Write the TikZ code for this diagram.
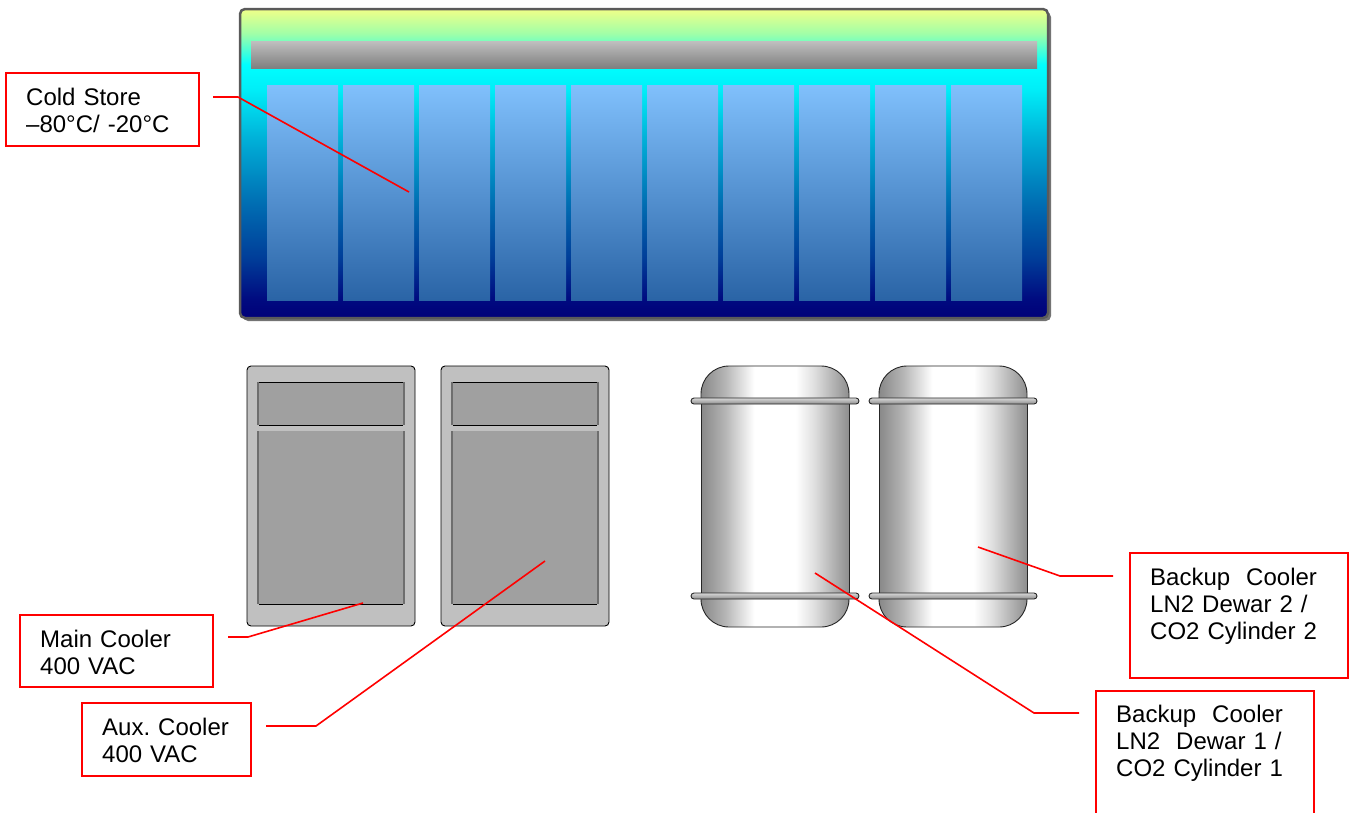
\documentclass[tikz,border=0pt]{standalone}
\usepackage{fontspec}
\setmainfont{Liberation Sans}
\frenchspacing

% colours
\definecolor{csYellow}{HTML}{F0FF88}
\definecolor{csGreen}{HTML}{A0FFA8}
\definecolor{csCyan}{HTML}{00FFFF}
\definecolor{csCyanB}{HTML}{00EEF8}
\definecolor{csTeal}{HTML}{00B0D8}
\definecolor{csBlue}{HTML}{0070B4}
\definecolor{csDeep}{HTML}{003C98}
\definecolor{csNavy}{HTML}{000A80}
\definecolor{csNavyB}{HTML}{000078}
\definecolor{frameGrey}{HTML}{5A5A5A}
\definecolor{panelTop}{HTML}{80C0FC}
\definecolor{panelBot}{HTML}{2A64A6}
\definecolor{coolerBody}{HTML}{C0C0C0}
\definecolor{coolerPanel}{HTML}{A0A0A0}
\definecolor{coolerEdge}{HTML}{6E6E6E}
\definecolor{steelA}{HTML}{888888}
\definecolor{steelB}{HTML}{8E8E8E}
\definecolor{steelMid}{HTML}{B4B4B4}

% cold store background: yellow top, cyan, blue, navy bottom
\pgfdeclareverticalshading{coldstore}{100bp}{%
  color(0bp)=(csNavyB); color(25bp)=(csNavyB); color(28bp)=(csNavy);
  color(34.5bp)=(csDeep); color(44bp)=(csBlue); color(54bp)=(csTeal);
  color(62bp)=(csCyanB); color(66bp)=(csCyan); color(71bp)=(csGreen);
  color(75bp)=(csYellow); color(100bp)=(csYellow)}
% polished steel for the dewars
\pgfdeclarehorizontalshading{steel}{100bp}{%
  color(0bp)=(steelA); color(25bp)=(steelA); color(33bp)=(steelMid);
  color(43bp)=(white); color(57bp)=(white); color(63bp)=(white!88!black);
  color(75bp)=(steelB); color(100bp)=(steelB)}

\tikzset{
  lbl/.style={draw=red, line width=2pt, inner sep=0pt},
  lbltext/.style={anchor=base west, inner sep=0pt, text width=260pt, align=left,
    font=\fontsize{24}{27.2}\selectfont},
  leader/.style={draw=red, line width=1.6pt},
  panel/.style={top color=panelTop, bottom color=panelBot},
  steelpart/.style={shading=steel, draw=black!85, line width=0.9pt},
  flange/.style={top color=white!85!black, bottom color=white!55!black, draw=black!85,
    line width=0.9pt, rounded corners=3pt},
}

\begin{document}
\begin{tikzpicture}[x=1pt, y=-1pt]
\useasboundingbox (0,0) rectangle (1351,812);

% ---------- cold store ----------
\fill[black!55, rounded corners=5pt] (243,12) rectangle (1051,321);
\path[shading=coldstore, draw=frameGrey, line width=2.5pt, rounded corners=5pt]
  (240,9) rectangle (1048,318);
\fill[top color=white!75!black, bottom color=white!50!black] (251,41) rectangle (1037,68);
\foreach \i in {0,...,9}
  \path[panel] ({267+76*\i},85) rectangle ({338+76*\i},300);

% ---------- coolers ----------
\foreach \x in {247,441} {
  \path[fill=coolerBody, draw=black, line width=0.9pt, rounded corners=4pt]
    (\x,366) rectangle ({\x+168},626);
  % upper panel
  \fill[coolerEdge] ({\x+10},382) rectangle ({\x+158},425);
  \fill[coolerPanel] ({\x+12},382) rectangle ({\x+156},425);
  \draw[black, line width=0.9pt] ({\x+12},382) -- ({\x+156},382)
    ({\x+12},425) -- ({\x+156},425);
  % lower panel
  \fill[coolerEdge] ({\x+10},431) rectangle ({\x+158},604);
  \fill[coolerPanel] ({\x+12},431) rectangle ({\x+156},604);
  \draw[black, line width=0.9pt] ({\x+12},604) -- ({\x+156},604);
}

% ---------- dewars ----------
\foreach \x in {701,879} {
  % top dome
  \path[steelpart] (\x,403) -- (\x,394)
    .. controls (\x,378.5) and ({\x+12.5},366) .. ({\x+28},366)
    -- ({\x+120},366)
    .. controls ({\x+135.5},366) and ({\x+148},378.5) .. ({\x+148},394)
    -- ({\x+148},403) -- cycle;
  % bottom dome
  \path[steelpart] (\x,597) -- (\x,599)
    .. controls (\x,614.5) and ({\x+12.5},627) .. ({\x+28},627)
    -- ({\x+120},627)
    .. controls ({\x+135.5},627) and ({\x+148},614.5) .. ({\x+148},599)
    -- ({\x+148},597) -- cycle;
  % body
  \path[steelpart] (\x,403) rectangle ({\x+148},594);
  % flanges
  \path[flange] ({\x-10},398) rectangle ({\x+158},404);
  \path[flange] ({\x-10},593) rectangle ({\x+158},599);
}

% ---------- labels ----------
\node[lbl, anchor=north west, minimum width=193pt, minimum height=73pt] (csbox) at (5,72) {};
\node[lbltext] (cstext) at (26,105) {Cold Store\\–80°C/ -20°C};

\node[lbl, anchor=north west, minimum width=193pt, minimum height=72pt] (mcbox) at (19,614) {};
\node[lbltext] (mctext) at (40,647) {Main Cooler\\400 VAC};

\node[lbl, anchor=north west, minimum width=169pt, minimum height=73pt] (acbox) at (81,702) {};
\node[lbltext] (actext) at (102,735) {Aux. Cooler\\400 VAC};

\node[lbl, anchor=north west, minimum width=218pt, minimum height=125pt] (bcbox2) at (1129,552) {};
\node[lbltext] (bctext2) at (1150,585) {Backup\ \ Cooler\\LN2 Dewar 2 /\\CO2 Cylinder 2};

\node[lbl, anchor=north west, minimum width=218pt, minimum height=135pt] (bcbox1) at (1095,690) {};
\node[lbltext] (bctext1) at (1116,722) {Backup\ \ Cooler\\LN2\ \ Dewar 1 /\\CO2 Cylinder 1};

% ---------- leader lines ----------
\coordinate (csA) at (213,97);   \coordinate (csB) at (238,97);   \coordinate (csT) at (409,192);
\coordinate (mcA) at (228,637);  \coordinate (mcB) at (248,637);  \coordinate (mcT) at (363,603);
\coordinate (acA) at (266,726);  \coordinate (acB) at (316,726);  \coordinate (acT) at (545,561);
\coordinate (b2A) at (1113,576); \coordinate (b2B) at (1060,576); \coordinate (b2T) at (978,547);
\coordinate (b1A) at (1079,713); \coordinate (b1B) at (1034,713); \coordinate (b1T) at (815,573);

\draw[leader] (csA) -- (csB) -- (csT);
\draw[leader] (mcA) -- (mcB) -- (mcT);
\draw[leader] (acA) -- (acB) -- (acT);
\draw[leader] (b2A) -- (b2B) -- (b2T);
\draw[leader] (b1A) -- (b1B) -- (b1T);
\end{tikzpicture}
\end{document}
